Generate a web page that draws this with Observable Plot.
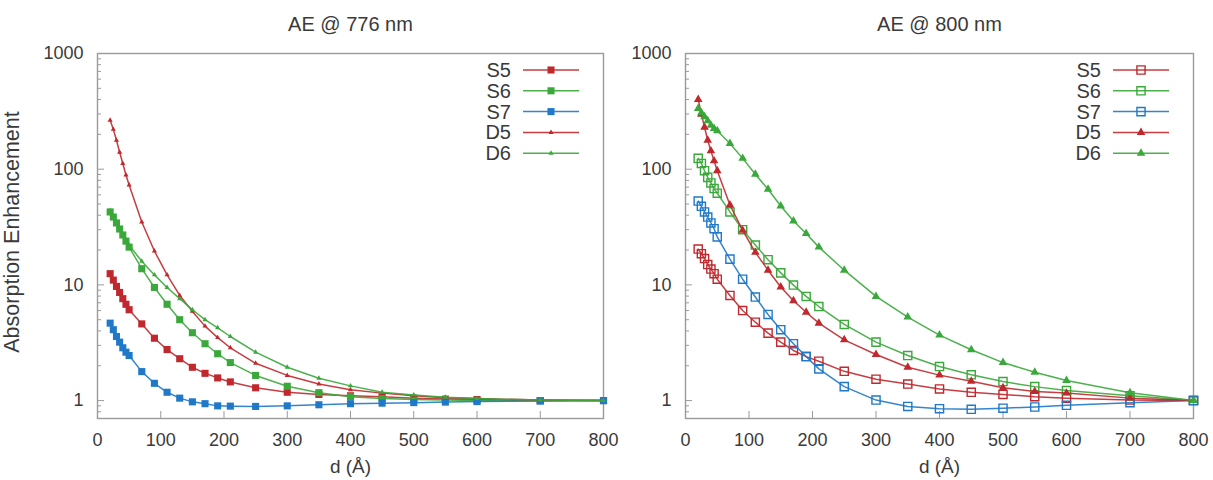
<!DOCTYPE html>
<html>
<head>
<meta charset="utf-8">
<script src="https://cdn.jsdelivr.net/npm/d3@7"></script>
<script src="https://cdn.jsdelivr.net/npm/@observablehq/plot@0.6"></script>
<style>
  body { margin: 0; background: #fff; }
  #wrap { position: relative; width: 1213px; height: 480px; overflow: hidden; }
  .panel { position: absolute; top: 0; }
</style>
</head>
<body>
<div id="wrap"></div>
<script>
// Spacer thickness d (Å) shared by every curve
const d = [20, 25, 30, 35, 40, 45, 50, 70, 90, 110, 130, 150, 170, 190, 210, 250, 300, 350, 400, 450, 500, 550, 600, 700, 800];

// Absorption enhancement at 776 nm
const s5_776 = [12.5, 11.0, 9.7, 8.6, 7.6, 6.8, 6.1, 4.6, 3.46, 2.76, 2.30, 1.94, 1.72, 1.57, 1.45, 1.29, 1.18, 1.13, 1.10, 1.08, 1.05, 1.03, 1.02, 1.00, 1.00];
const s6_776 = [42.7, 38.6, 34.3, 30.4, 27.0, 23.9, 21.2, 13.8, 9.5, 6.8, 5.0, 3.86, 3.1, 2.54, 2.13, 1.65, 1.33, 1.17, 1.08, 1.04, 1.02, 1.01, 1.00, 1.00, 1.00];
const s7_776 = [4.67, 4.1, 3.58, 3.2, 2.86, 2.62, 2.45, 1.78, 1.41, 1.18, 1.05, 0.975, 0.94, 0.90, 0.895, 0.89, 0.90, 0.92, 0.94, 0.95, 0.96, 0.97, 0.98, 0.99, 1.00];
const d5_776 = [265, 221, 178, 140, 112, 89, 73, 35, 19.6, 12.2, 8.1, 5.9, 4.4, 3.5, 2.86, 2.10, 1.65, 1.39, 1.24, 1.16, 1.10, 1.06, 1.04, 1.01, 1.00];
const d6_776 = [44, 39, 35, 31, 27.5, 24.5, 22, 16, 12.2, 9.5, 7.6, 6.1, 5.0, 4.26, 3.58, 2.62, 1.94, 1.56, 1.34, 1.18, 1.12, 1.07, 1.04, 1.01, 1.00];

// Absorption enhancement at 800 nm
const s5_800 = [20.4, 18.6, 16.9, 15.0, 13.7, 12.5, 11.2, 8.1, 6.0, 4.76, 3.83, 3.2, 2.71, 2.40, 2.19, 1.79, 1.53, 1.39, 1.26, 1.18, 1.13, 1.08, 1.05, 1.01, 1.00];
const s6_800 = [124, 112, 97, 85, 76, 68, 62, 42.7, 30, 22.1, 16.5, 12.7, 9.96, 7.95, 6.5, 4.55, 3.2, 2.45, 1.97, 1.67, 1.46, 1.32, 1.22, 1.10, 1.00];
const s7_800 = [53, 47.8, 42.7, 38.6, 34.3, 30.6, 26, 16.7, 11.2, 7.85, 5.55, 4.1, 3.1, 2.40, 1.88, 1.32, 1.01, 0.89, 0.85, 0.84, 0.86, 0.88, 0.91, 0.96, 1.00];
const d5_800 = [401, 299, 230, 178, 144, 118, 97, 49, 29.6, 19.1, 13.4, 9.6, 7.3, 5.8, 4.67, 3.35, 2.50, 1.94, 1.66, 1.47, 1.29, 1.20, 1.16, 1.05, 1.00];
const d6_800 = [335, 307, 284, 262, 240, 225, 215, 167, 124, 90.5, 67, 48, 35.7, 27.8, 21.2, 13.4, 7.95, 5.27, 3.68, 2.75, 2.13, 1.76, 1.49, 1.17, 1.00];

// Axis ticks
const xTicks = [0, 100, 200, 300, 400, 500, 600, 700, 800];
const yMajor = [1, 10, 100, 1000];
const yMinor = [0.7, 0.8, 0.9, 2, 3, 4, 5, 6, 7, 8, 9, 20, 30, 40, 50, 60, 70, 80, 90, 200, 300, 400, 500, 600, 700, 800, 900];

const seriesNames = ["S5", "S6", "S7", "D5", "D6"];
const titles = ["AE @ 776 nm", "AE @ 800 nm"];

const RED = "#c0282d", GREEN = "#3aa83a", BLUE = "#1f78c8";
const TEXT = "#3a3a3a", AXIS = "#9a9a9a";
const FONT = "'Liberation Sans', Arial, Helvetica, sans-serif";

const H = 480, MT = 53, MB = 62;

function panel({title, values, open, left, width, marginLeft, marginRight, yLabel}) {
  const plotW = width - marginLeft - marginRight;
  const plotH = H - MT - MB;
  const styles = [
    {color: RED,   symbol: "square",   r: open ? 4.6 : 4.0, filled: !open},
    {color: GREEN, symbol: "square",   r: open ? 4.6 : 4.0, filled: !open},
    {color: BLUE,  symbol: "square",   r: open ? 4.6 : 4.0, filled: !open},
    {color: RED,   symbol: "triangle", r: open ? 3.2 : 1.9, filled: true},
    {color: GREEN, symbol: "triangle", r: open ? 3.2 : 1.9, filled: true}
  ];
  const rows = seriesNames.flatMap((name, k) => d.map((x, i) => ({d: x, v: values[k][i], name})));

  const marks = [
    Plot.frame({stroke: AXIS, strokeWidth: 1.4}),
    Plot.tickY(yMinor, {y: v => v, stroke: AXIS, insetRight: plotW - 4}),
    Plot.tickY(yMajor, {y: v => v, stroke: AXIS, insetRight: plotW - 7}),
    Plot.tickX(xTicks, {x: v => v, stroke: AXIS, insetTop: plotH - 7}),
    Plot.axisY({ticks: yMajor, tickSize: 0, tickPadding: 14, tickFormat: v => String(v), label: null}),
    Plot.axisX({ticks: xTicks, tickSize: 0, tickPadding: 15, tickFormat: v => String(v), label: null}),
    Plot.text([title], {text: t => t, frameAnchor: "top", lineAnchor: "middle", textAnchor: "middle", dy: -29, fontSize: 20, fill: TEXT}),
    Plot.text(["d (Å)"], {text: t => t, frameAnchor: "bottom", lineAnchor: "middle", textAnchor: "middle", dy: 48, fontSize: 19, fill: TEXT})
  ];
  if (yLabel) {
    marks.push(Plot.text([yLabel], {text: t => t, frameAnchor: "left", textAnchor: "middle", lineAnchor: "middle", rotate: -90, dx: -85, dy: -4, fontSize: 21.5, fill: TEXT}));
  }
  seriesNames.forEach((name, k) => {
    const s = styles[k];
    const data = rows.filter(r => r.name === name);
    marks.push(Plot.line(data, {x: "d", y: "v", stroke: s.color, strokeWidth: 1.5, strokeOpacity: 0.9}));
    marks.push(Plot.dot(data, {
      x: "d", y: "v", symbol: s.symbol, r: s.r,
      fill: s.filled ? s.color : "none",
      stroke: s.filled ? "none" : s.color,
      strokeWidth: 1.4
    }));
  });

  const svg = Plot.plot({
    width, height: H,
    marginLeft, marginRight, marginTop: MT, marginBottom: MB,
    x: {domain: [0, 800]},
    y: {type: "log", domain: [0.7, 1000]},
    style: {fontFamily: FONT, fontSize: "18px", color: TEXT, background: "transparent", overflow: "visible"},
    marks
  });

  // Key in the upper right corner of the frame
  const right = width - marginRight;
  const key = d3.select(svg).append("g").attr("font-family", FONT).attr("font-size", 20).attr("fill", TEXT);
  seriesNames.forEach((name, k) => {
    const s = styles[k];
    const y = MT + 17 + k * 20.8;
    key.append("text").attr("x", right - 92).attr("y", y).attr("text-anchor", "end")
      .attr("dominant-baseline", "central").text(name);
    key.append("line").attr("x1", right - 80).attr("x2", right - 24).attr("y1", y).attr("y2", y)
      .attr("stroke", s.color).attr("stroke-width", 1.5).attr("stroke-opacity", 0.9);
    const sym = s.symbol === "square" ? d3.symbolSquare : d3.symbolTriangle;
    key.append("path").attr("transform", `translate(${right - 52},${y})`)
      .attr("d", d3.symbol(sym, Math.PI * s.r * s.r)())
      .attr("fill", s.filled ? s.color : "none")
      .attr("stroke", s.filled ? "none" : s.color)
      .attr("stroke-width", 1.4);
  });

  const div = document.createElement("div");
  div.className = "panel";
  div.style.left = left + "px";
  div.appendChild(svg);
  document.getElementById("wrap").appendChild(div);
}

panel({
  title: titles[0], values: [s5_776, s6_776, s7_776, d5_776, d6_776], open: false,
  left: 0, width: 613, marginLeft: 97, marginRight: 10, yLabel: "Absorption Enhancement"
});
panel({
  title: titles[1], values: [s5_800, s6_800, s7_800, d5_800, d6_800], open: true,
  left: 613, width: 600, marginLeft: 72, marginRight: 20
});
</script>
</body>
</html>
